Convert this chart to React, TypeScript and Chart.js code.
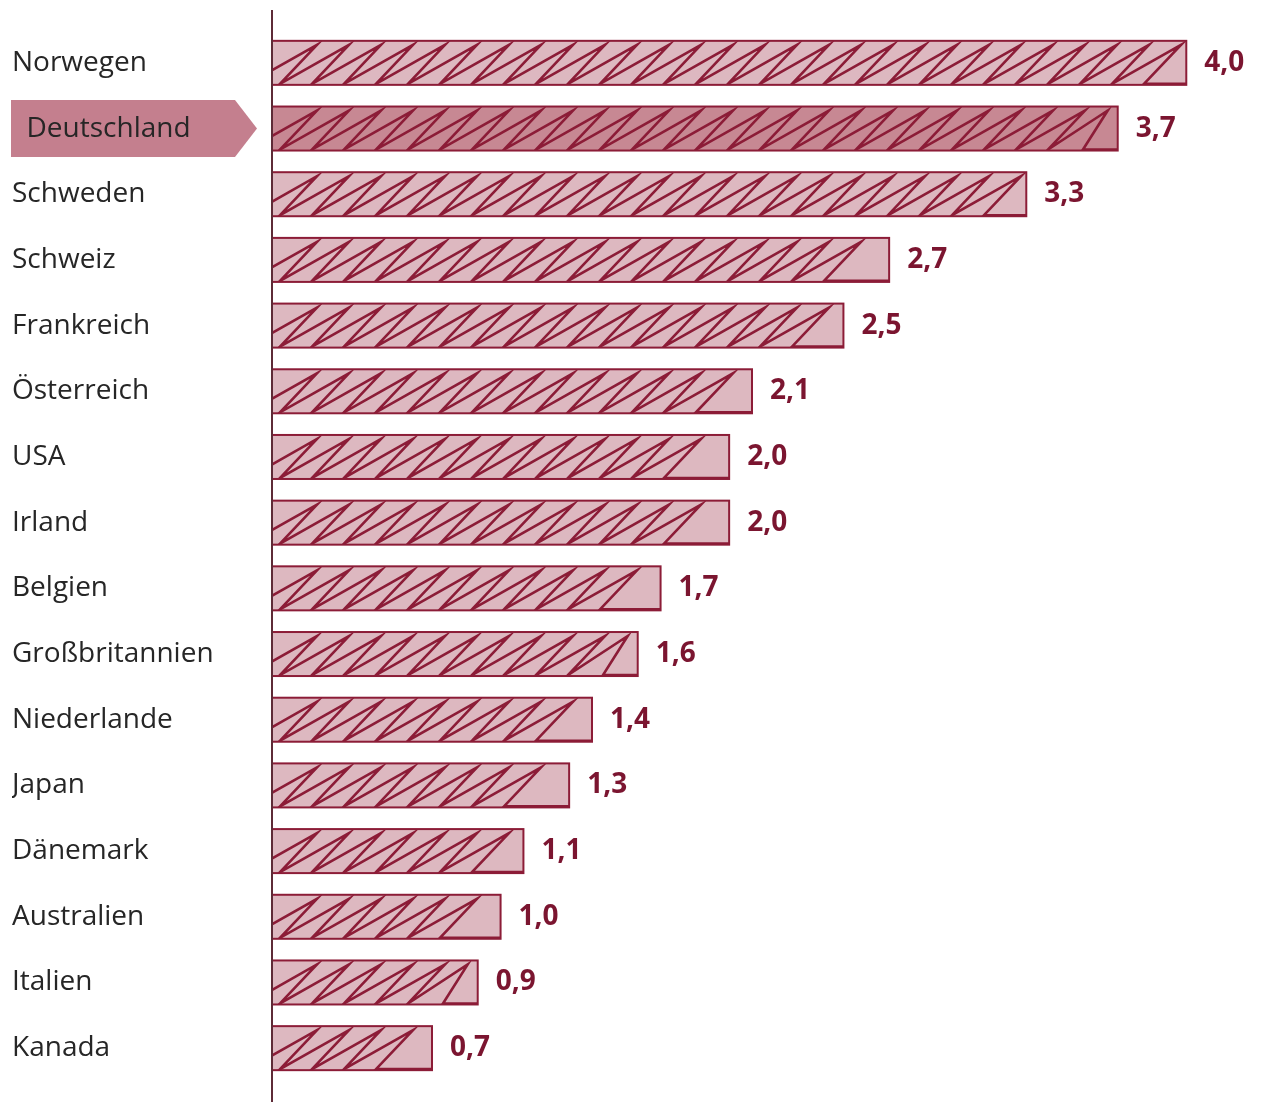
import React, { useEffect, useRef } from 'react';
import { Chart, registerables } from 'chart.js';

Chart.register(...registerables);

const countries = [
  'Norwegen', 'Deutschland', 'Schweden', 'Schweiz', 'Frankreich', 'Österreich', 'USA', 'Irland',
  'Belgien', 'Großbritannien', 'Niederlande', 'Japan', 'Dänemark', 'Australien', 'Italien', 'Kanada',
];
const values = [4.0, 3.7, 3.3, 2.7, 2.5, 2.1, 2.0, 2.0, 1.7, 1.6, 1.4, 1.3, 1.1, 1.0, 0.9, 0.7];
const highlighted = 'Deutschland';
const valueLabels = values.map((v) => v.toFixed(1).replace('.', ','));

const DARK_RED = '#8c1c37';
const LABEL_RED = '#7b1530';
const FILL = '#ddb8c0';
const FILL_HI = '#c78893';
const BOX = '#c47f8e';
const AXIS = '#5e2b37';

const decorPlugin = {
  id: 'decor',
  beforeDraw(chart: any) {
    const ctx = chart.ctx;
    const yScale = chart.scales.y;
    const idx = countries.indexOf(highlighted);
    if (idx < 0) return;
    const cy = yScale.getPixelForValue(idx);
    const half = 28.5;
    const left = yScale.left - 1;
    const tip = chart.chartArea.left - 15;
    const rectRight = tip - 22;
    ctx.save();
    ctx.fillStyle = BOX;
    ctx.beginPath();
    ctx.moveTo(left, cy - half);
    ctx.lineTo(rectRight, cy - half);
    ctx.lineTo(tip, cy);
    ctx.lineTo(rectRight, cy + half);
    ctx.lineTo(left, cy + half);
    ctx.closePath();
    ctx.fill();
    ctx.restore();
  },
  afterDatasetsDraw(chart: any) {
    const ctx = chart.ctx;
    const area = chart.chartArea;
    const x0 = area.left;
    const meta = chart.getDatasetMeta(0);
    const step = 32;
    const firstTop = 45;
    const back = 37;
    meta.data.forEach((el: any, i: number) => {
      const p = el.getProps(['x', 'y', 'base', 'height'], true);
      const end = p.x;
      const top = p.y - p.height / 2;
      const bottom = p.y + p.height / 2;
      const zTop = top + 4;
      const zBot = bottom - 1;
      // zigzag pattern
      ctx.save();
      ctx.beginPath();
      ctx.rect(x0, top, end - x0, bottom - top);
      ctx.clip();
      ctx.strokeStyle = DARK_RED;
      ctx.lineWidth = 2.6;
      ctx.lineJoin = 'miter';
      ctx.beginPath();
      let t = x0 + firstTop;
      ctx.moveTo(t - step - back, zBot);
      let lastTop = t;
      while (t <= end - 2) {
        ctx.lineTo(t, zTop);
        ctx.lineTo(t - back, zBot);
        lastTop = t;
        t += step;
      }
      if (end - lastTop > 29) {
        const extra = end - 10;
        ctx.lineTo(extra, zTop);
        ctx.lineTo(lastTop - 2, zBot);
      }
      ctx.lineTo(end, zBot);
      ctx.stroke();
      ctx.restore();

      // border on top
      ctx.save();
      ctx.strokeStyle = DARK_RED;
      ctx.lineWidth = 2;
      ctx.strokeRect(x0, top, end - x0, bottom - top);
      ctx.restore();

      // value label
      ctx.save();
      ctx.fillStyle = LABEL_RED;
      ctx.font = 'bold 28px "Open Sans"';
      ctx.textAlign = 'left';
      ctx.textBaseline = 'middle';
      ctx.fillText(valueLabels[i], end + 18, p.y);
      ctx.restore();
    });

    // vertical axis line
    ctx.save();
    ctx.strokeStyle = AXIS;
    ctx.lineWidth = 2;
    ctx.beginPath();
    ctx.moveTo(x0, 10);
    ctx.lineTo(x0, chart.height);
    ctx.stroke();
    ctx.restore();
  },
};

export default function App() {
  const ref = useRef<HTMLCanvasElement | null>(null);

  useEffect(() => {
    document.body.style.margin = '0';
    if (!ref.current) return;
    const chart = new Chart(ref.current, {
      type: 'bar',
      data: {
        labels: countries,
        datasets: [
          {
            data: values,
            backgroundColor: countries.map((c) => (c === highlighted ? FILL_HI : FILL)),
            borderColor: DARK_RED,
            borderWidth: 0,
            borderSkipped: false,
            categoryPercentage: 1,
            barPercentage: 0.67,
          },
        ],
      },
      options: {
        indexAxis: 'y',
        animation: false,
        responsive: true,
        maintainAspectRatio: false,
        layout: { padding: { left: 12, right: 29, top: 30, bottom: 21 } },
        plugins: {
          legend: { display: false },
          tooltip: { enabled: false },
        },
        scales: {
          x: {
            type: 'linear',
            min: 0,
            max: 4.2,
            display: false,
          },
          y: {
            type: 'category',
            grid: { display: false },
            border: { display: false },
            afterFit: (scale: any) => {
              scale.width = 260;
            },
            ticks: {
              crossAlign: 'far',
              padding: 0,
              color: '#262626',
              font: { family: '"Open Sans"', size: 28 },
              callback: (_v: any, i: number) =>
                countries[i] === highlighted ? '  ' + countries[i] : countries[i],
            },
          },
        },
      },
      plugins: [decorPlugin],
    });
    return () => chart.destroy();
  }, []);

  return (
    <div style={{ position: 'relative', width: 1261, height: 1102 }}>
      <canvas ref={ref} />
    </div>
  );
}
